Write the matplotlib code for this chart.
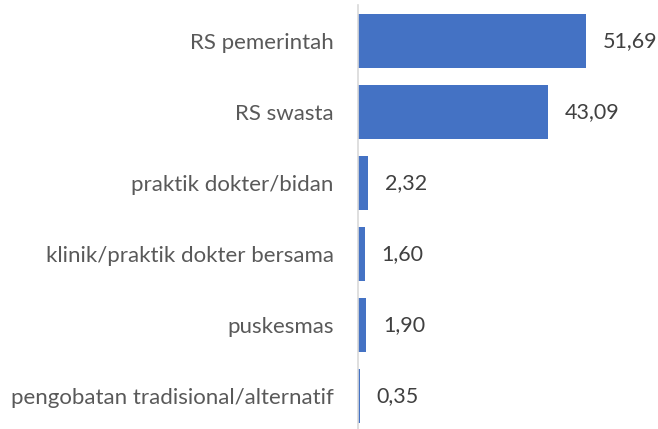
import matplotlib.pyplot as plt

# ============================================================
# DATA
# ============================================================
categories = [
    "RS pemerintah",
    "RS swasta",
    "praktik dokter/bidan",
    "klinik/praktik dokter bersama",
    "puskesmas",
    "pengobatan tradisional/alternatif",
]
values = [51.69, 43.09, 2.32, 1.60, 1.90, 0.35]
value_labels = ["51,69", "43,09", "2,32", "1,60", "1,90", "0,35"]

# ============================================================
# PLOT
# ============================================================
plt.rcParams['font.family'] = ['Lato', 'DejaVu Sans']

fig = plt.figure(figsize=(6.58, 4.29), dpi=100)
ax = fig.add_axes([358 / 658, 0.0, 265 / 658, 424 / 429])

ypos = list(range(len(categories)))
ax.barh(ypos, values, height=0.76, color="#4472C4")

for y, v, lab in zip(ypos, values, value_labels):
    ax.annotate(lab, (v, y), xytext=(12, 0), textcoords="offset points",
                va="center", ha="left", fontsize=15.5, color="#404040")

ax.set_yticks(ypos)
ax.set_yticklabels(categories, fontsize=16, color="#595959")
ax.tick_params(axis="y", length=0, pad=17.5)
ax.set_xticks([])
ax.set_xlim(0, 60)
ax.set_ylim(5.465, -0.507)

for s in ["top", "right", "bottom"]:
    ax.spines[s].set_visible(False)
ax.spines["left"].set_color("#d9d9d9")
ax.spines["left"].set_linewidth(1.2)

fig.savefig("out.png", dpi=100)
